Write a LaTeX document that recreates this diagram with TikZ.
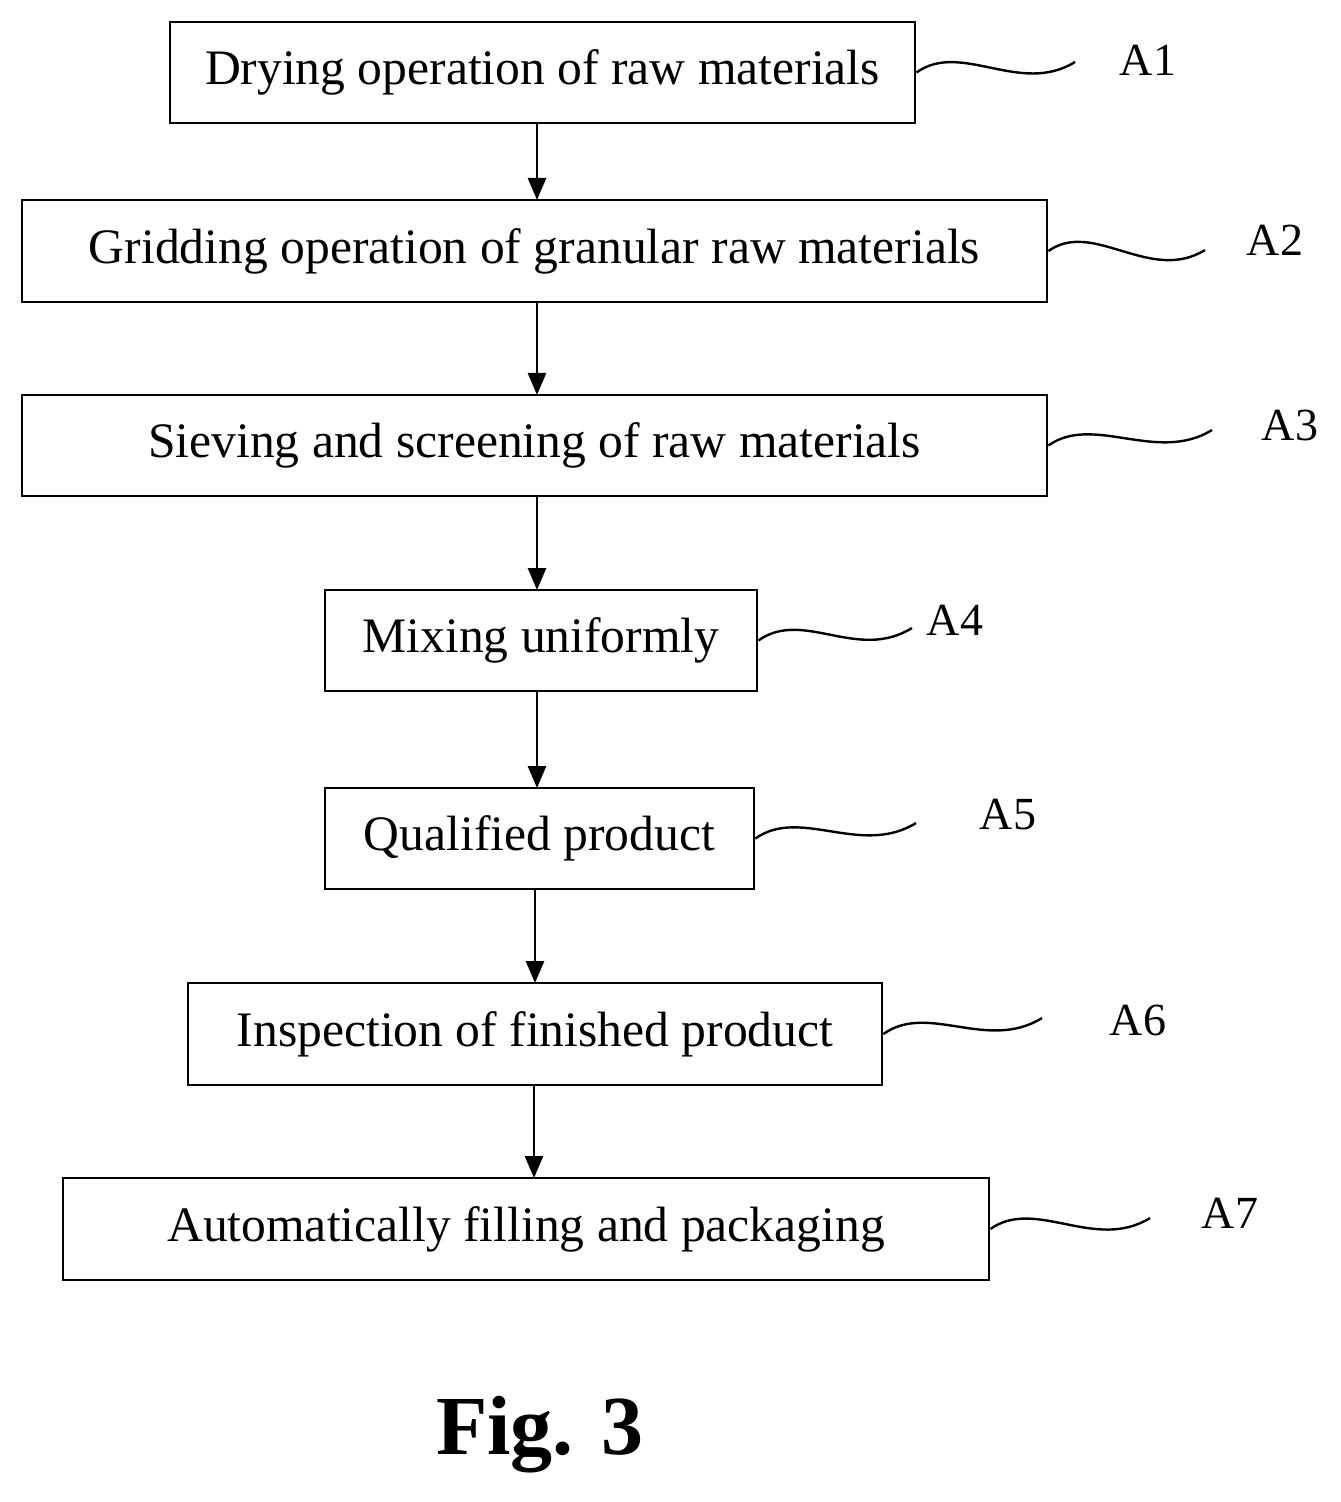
\documentclass[tikz,border=0pt]{standalone}
\usepackage{fontspec}
\setmainfont{Liberation Serif}
\usetikzlibrary{arrows.meta}
\begin{document}
\begin{tikzpicture}[x=0.5pt,y=-0.5pt,
  box/.style={draw,line width=1.4pt,inner sep=0pt,font=\fontsize{24.8}{29}\selectfont},
  arr/.style={line width=1.4pt,-{Triangle[length=11pt,width=9pt]}},
  wave/.style={line width=1.2pt},
  lab/.style={font=\fontsize{23}{27}\selectfont}]
\useasboundingbox (0,0) rectangle (1340,1502);
\node[box,minimum width=372.5pt,minimum height=50.5pt] (b1) at (542.5,72.5) {Drying operation of raw materials};
\node[box,minimum width=512.5pt,minimum height=51pt] (b2) at (534.5,251) {Gridding operation of granular raw materials};
\node[box,minimum width=512.5pt,minimum height=50.5pt] (b3) at (534.5,445.5) {Sieving and screening of raw materials};
\node[box,minimum width=216pt,minimum height=50.5pt] (b4) at (541,640.5) {Mixing uniformly};
\node[box,minimum width=214.5pt,minimum height=50.5pt] (b5) at (539.5,838.5) {Qualified product};
\node[box,minimum width=347pt,minimum height=51pt] (b6) at (535,1034) {Inspection of finished product};
\node[box,minimum width=463pt,minimum height=51pt] (b7) at (526,1229) {Automatically filling and packaging};
\draw[arr] (537,123) -- (537,200);
\draw[arr] (537,302) -- (537,395);
\draw[arr] (537,496) -- (537,590);
\draw[arr] (537,691) -- (537,788);
\draw[arr] (535,889) -- (535,983);
\draw[arr] (534,1085) -- (534,1178);
\node[lab] (l1) at (1148,60) {A1};
\node[lab] (l2) at (1275,240) {A2};
\node[lab] (l3) at (1290,425) {A3};
\node[lab] (l4) at (955,620) {A4};
\node[lab] (l5) at (1008,815) {A5};
\node[lab] (l6) at (1138,1020) {A6};
\node[lab] (l7) at (1230,1213) {A7};
\coordinate (e1) at (1075,62);
\coordinate (e2) at (1205,250);
\coordinate (e3) at (1212,430);
\coordinate (e4) at (912,628);
\coordinate (e5) at (916,823);
\coordinate (e6) at (1042,1018);
\coordinate (e7) at (1150,1218);
\foreach \i in {1,...,7}{
  \draw[wave] (b\i.east) .. controls +(45,-32) and +(-55,34) .. (e\i);
}
\node[font=\bfseries\fontsize{42}{48}\selectfont] (fig) at (540,1435) {Fig. 3};
\end{tikzpicture}
\end{document}
